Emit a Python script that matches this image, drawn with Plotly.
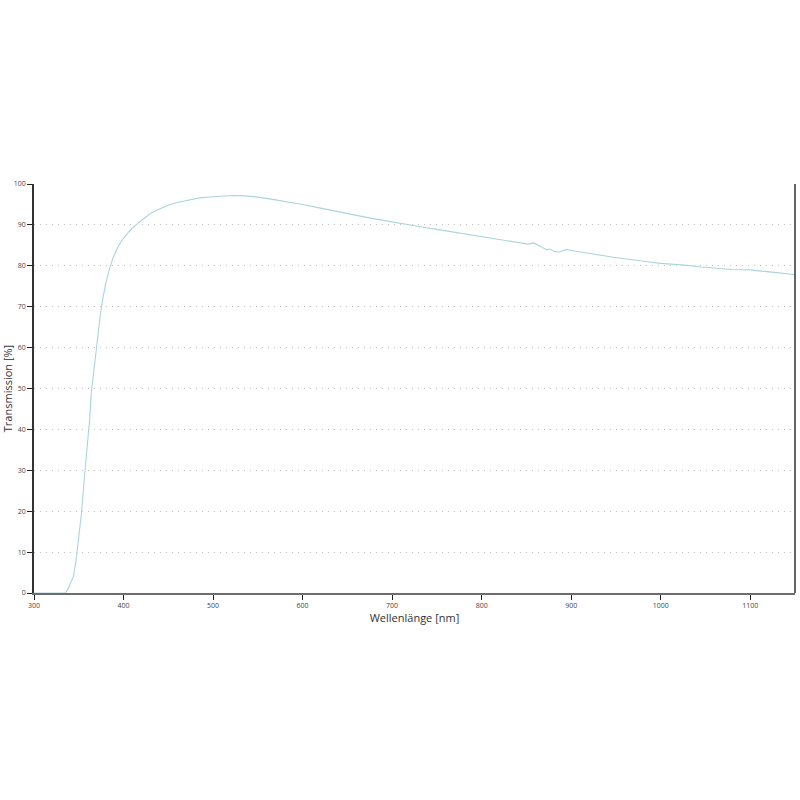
import plotly.graph_objects as go

# Transmission curve, values
wavelength = [300, 320, 335, 338, 341, 344, 347, 350, 353, 357, 360, 362, 364, 367, 370,
              373, 376, 380, 384, 388, 393, 398, 404, 410, 415, 422, 430, 440, 450, 460,
              470, 485, 500, 512, 522, 535, 550, 565, 580, 600, 620, 635, 650, 670, 690,
              710, 730, 750, 770, 790, 810, 820, 830, 845, 852, 858, 862, 866, 870, 873, 876,
              880, 886, 890, 895, 902, 910, 918, 932, 947, 958, 970, 985, 1000, 1015, 1030,
              1045, 1060, 1080, 1100, 1120, 1135, 1150]
transmission = [0.0, 0.0, 0.0, 1.0, 2.5, 4.0, 8.0, 13.5, 19.5, 30.0, 37.0, 42.0, 49.0, 55.0, 60.5,
                66.0, 71.0, 75.5, 79.0, 81.8, 84.3, 86.2, 87.8, 89.3, 90.2, 91.5, 92.8, 93.9, 94.8, 95.5,
                96.0, 96.6, 96.9, 97.1, 97.2, 97.1, 96.8, 96.3, 95.8, 95.0, 94.1, 93.4, 92.7, 91.9, 91.1,
                90.3, 89.6, 88.9, 88.2, 87.5, 86.8, 86.4, 86.0, 85.6, 85.3, 85.6, 85.2, 84.7, 84.2, 83.9, 84.1,
                83.6, 83.3, 83.7, 84.0, 83.7, 83.4, 83.1, 82.5, 82.1, 81.8, 81.4, 81.0, 80.6, 80.4, 80.1,
                79.7, 79.4, 79.1, 79.0, 78.6, 78.2, 77.8]

x_ticks = [300, 400, 500, 600, 700, 800, 900, 1000, 1100]
y_ticks = [0, 10, 20, 30, 40, 50, 60, 70, 80, 90, 100]

fig = go.Figure()

fig.add_trace(
    go.Scatter(
        x=wavelength,
        y=transmission,
        mode="lines",
        line=dict(color="#abd4de", width=1.1),
        hoverinfo="x+y",
    )
)

fig.update_layout(
    width=800,
    height=800,
    margin=dict(l=34, r=5, t=184, b=207),
    paper_bgcolor="white",
    plot_bgcolor="white",
    showlegend=False,
    font=dict(family="Open Sans, sans-serif", color="#333333"),
)

fig.update_xaxes(
    range=[300, 1150],
    tickvals=x_ticks,
    ticks="outside",
    ticklen=5,
    tickwidth=1,
    tickcolor="#222222",
    tickfont=dict(size=7, color="#444444"),
    showgrid=False,
    zeroline=False,
    showline=True,
    linecolor="#6d6d6d",
    linewidth=2,
    mirror=False,
    layer="below traces",
    automargin=False,
    title=dict(text="Wellenlänge [nm]", font=dict(size=11, color="#333333"), standoff=0),
)

fig.update_yaxes(
    range=[0, 100],
    tickvals=y_ticks,
    ticks="outside",
    ticklen=5,
    tickwidth=1,
    tickcolor="#222222",
    tickfont=dict(size=7, color="#444444"),
    showgrid=True,
    gridcolor="#c2c2c2",
    griddash="1px,5px",
    gridwidth=1,
    zeroline=False,
    showline=True,
    linecolor="#333333",
    linewidth=1.5,
    automargin=False,
    title=dict(text="Transmission [%]", font=dict(size=11, color="#333333"), standoff=4),
)

# right border line
fig.add_shape(type="line", xref="paper", yref="paper", x0=1, x1=1, y0=0, y1=1,
              line=dict(color="#333333", width=1.5))

# drop the default body margin so the 800x800 figure fills the window
fig.write_html(
    "out.html",
    config={"displayModeBar": False},
    post_script="document.body.style.margin='0';",
)
